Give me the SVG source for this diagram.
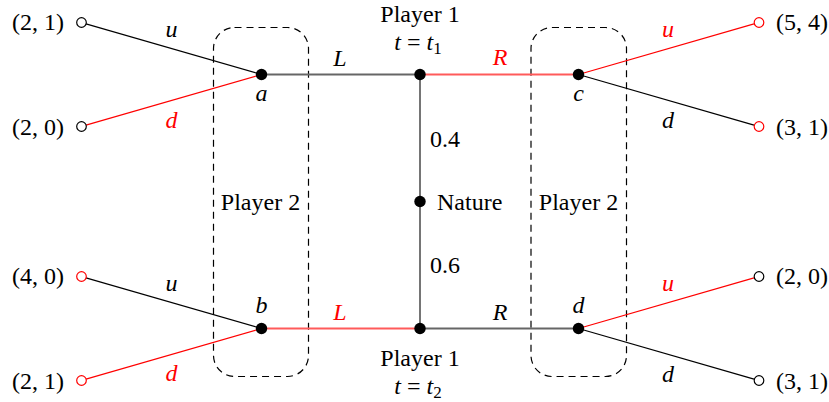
<svg xmlns="http://www.w3.org/2000/svg" width="829" height="402" viewBox="0 0 829 402">
<style>
text{font-family:"Liberation Serif","Times New Roman",serif;font-size:24px;fill:#000}
.it{font-style:italic}
.red{fill:#ff0000}
.mid{text-anchor:middle}
.end{text-anchor:end}
.e{stroke:#000;stroke-width:1.2;fill:none}
.er{stroke:#ff0000;stroke-width:1.2;fill:none}
.h{stroke:#666;stroke-width:1.8;fill:none}
.hr{stroke:#ff5a5a;stroke-width:1.8;fill:none}
.box{fill:none;stroke:#000;stroke-width:1.2;stroke-dasharray:7 5}
.dot{fill:#000}
.t{fill:#fff;stroke:#000;stroke-width:1.2}
.tr{fill:#fff;stroke:#ff0000;stroke-width:1.2}
</style>
<rect width="829" height="402" fill="#fff"/>
<g id="infosets">
<rect class="box" x="213.5" y="27.5" width="95" height="349" rx="21"/>
<rect class="box" x="531" y="27.5" width="95.5" height="349" rx="21"/>
</g>
<g id="connectors">
<line class="h" x1="261.5" y1="74.5" x2="420" y2="74.5"/>
<line class="hr" x1="420" y1="74.5" x2="578.5" y2="74.5"/>
<line class="h" x1="420" y1="74.5" x2="420" y2="328.5"/>
<line class="hr" x1="261.5" y1="328.5" x2="420" y2="328.5"/>
<line class="h" x1="420" y1="328.5" x2="578.5" y2="328.5"/>
<line class="e" x1="86" y1="23.8" x2="261.5" y2="74.5"/>
<line class="er" x1="86" y1="125.2" x2="261.5" y2="74.5"/>
<line class="er" x1="754" y1="23.8" x2="578.5" y2="74.5"/>
<line class="e" x1="754" y1="125.2" x2="578.5" y2="74.5"/>
<line class="e" x1="86" y1="277.8" x2="261.5" y2="328.5"/>
<line class="er" x1="86" y1="379.2" x2="261.5" y2="328.5"/>
<line class="er" x1="754" y1="277.8" x2="578.5" y2="328.5"/>
<line class="e" x1="754" y1="379.2" x2="578.5" y2="328.5"/>
</g>
<g id="p1-top">
<circle class="dot" cx="420" cy="74.5" r="5.7"/>
<text class="mid" x="420" y="22">Player 1</text>
<text class="mid" x="418" y="50"><tspan class="it">t</tspan> = <tspan class="it">t</tspan><tspan font-size="17" dy="4">1</tspan></text>
</g>
<g id="p1-bottom">
<circle class="dot" cx="420" cy="328.5" r="5.7"/>
<text class="mid" x="420" y="366">Player 1</text>
<text class="mid" x="418" y="394"><tspan class="it">t</tspan> = <tspan class="it">t</tspan><tspan font-size="17" dy="4">2</tspan></text>
</g>
<g id="nature">
<circle class="dot" cx="420" cy="201.5" r="5.7"/>
<text x="437" y="210">Nature</text>
</g>
<g id="node-a">
<circle class="dot" cx="261.5" cy="74.5" r="5.7"/>
<text class="it mid" x="261.5" y="101">a</text>
</g>
<g id="node-b">
<circle class="dot" cx="261.5" cy="328.5" r="5.7"/>
<text class="it mid" x="261.5" y="313">b</text>
</g>
<g id="node-c">
<circle class="dot" cx="578.5" cy="74.5" r="5.7"/>
<text class="it mid" x="578.5" y="101">c</text>
</g>
<g id="node-d">
<circle class="dot" cx="578.5" cy="328.5" r="5.7"/>
<text class="it mid" x="578.5" y="313">d</text>
</g>
<g id="leaf-tl1"><circle class="t" cx="81.5" cy="22.5" r="4.8"/><text class="end" x="64" y="30">(2, 1)</text></g>
<g id="leaf-tl2"><circle class="t" cx="81.5" cy="126.5" r="4.8"/><text class="end" x="64" y="135">(2, 0)</text></g>
<g id="leaf-tr1"><circle class="tr" cx="759" cy="22.5" r="4.8"/><text x="776" y="30">(5, 4)</text></g>
<g id="leaf-tr2"><circle class="tr" cx="759" cy="126.5" r="4.8"/><text x="776" y="135">(3, 1)</text></g>
<g id="leaf-bl1"><circle class="tr" cx="81.5" cy="276.5" r="4.8"/><text class="end" x="64" y="284">(4, 0)</text></g>
<g id="leaf-bl2"><circle class="tr" cx="81.5" cy="380.5" r="4.8"/><text class="end" x="64" y="389">(2, 1)</text></g>
<g id="leaf-br1"><circle class="t" cx="759" cy="276.5" r="4.8"/><text x="776" y="284">(2, 0)</text></g>
<g id="leaf-br2"><circle class="t" cx="759" cy="380.5" r="4.8"/><text x="776" y="389">(3, 1)</text></g>
<g id="labels">
<text class="it mid" x="171.5" y="37">u</text>
<text class="it mid red" x="171.5" y="128">d</text>
<text class="it mid red" x="668" y="37">u</text>
<text class="it mid" x="668" y="128">d</text>
<text class="it mid" x="171.5" y="291">u</text>
<text class="it mid red" x="171.5" y="381">d</text>
<text class="it mid red" x="668" y="291">u</text>
<text class="it mid" x="668" y="382">d</text>
<text class="it mid" x="340" y="66">L</text>
<text class="it mid red" x="500" y="65">R</text>
<text class="it mid red" x="340" y="320">L</text>
<text class="it mid" x="500" y="320">R</text>
<text x="430" y="147">0.4</text>
<text x="430" y="273">0.6</text>
<text class="mid" x="260.5" y="210">Player 2</text>
<text class="mid" x="578.5" y="210">Player 2</text>
</g>
</svg>
